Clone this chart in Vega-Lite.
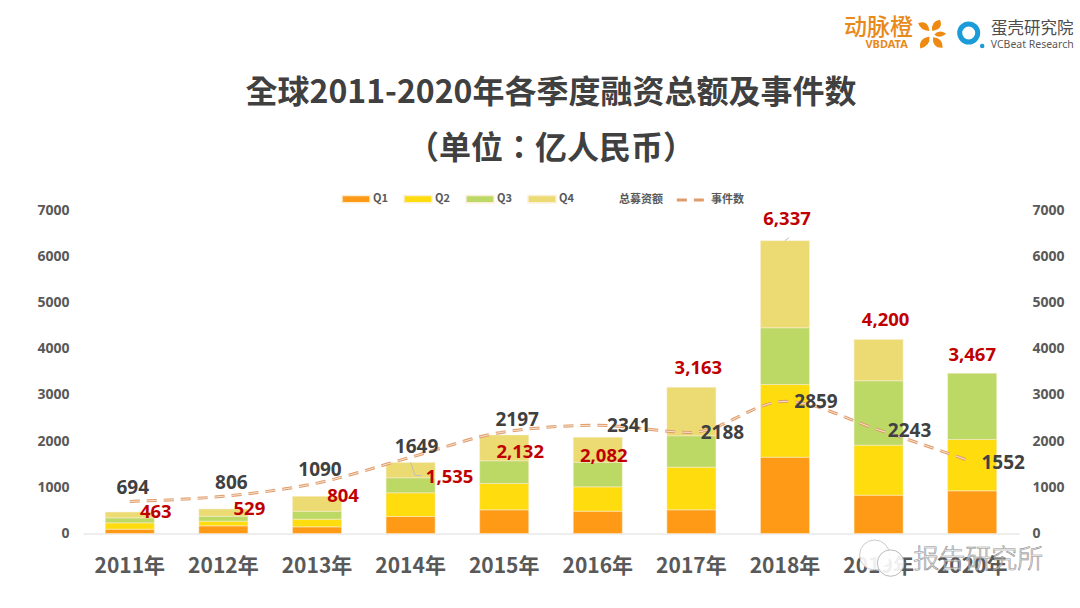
{
  "$schema": "https://vega.github.io/schema/vega-lite/v6.json",
  "width": 936,
  "height": 323.5,
  "padding": {"left": 83, "top": 210, "right": 61, "bottom": 74.5},
  "autosize": {"type": "none"},
  "background": "white",
  "title": {
    "text": ["全球2011-2020年各季度融资总额及事件数", "（单位：亿人民币）"],
    "font": "Noto Sans CJK TC",
    "fontSize": 32,
    "fontWeight": "bold",
    "color": "#404040",
    "lineHeight": 56,
    "anchor": "middle",
    "frame": "group",
    "offset": -152
  },
  "config": {
    "view": {"stroke": null},
    "font": "Noto Sans",
    "legend": {"labelFont": "Noto Sans CJK SC", "labelFontSize": 11, "labelFontWeight": "bold", "labelColor": "#595959", "title": null}
  },
  "datasets": {
    "quarters": [
      {"year": "2011年", "quarter": "Q1", "amount": 94},
      {"year": "2011年", "quarter": "Q2", "amount": 137},
      {"year": "2011年", "quarter": "Q3", "amount": 108},
      {"year": "2011年", "quarter": "Q4", "amount": 124},
      {"year": "2012年", "quarter": "Q1", "amount": 166},
      {"year": "2012年", "quarter": "Q2", "amount": 101},
      {"year": "2012年", "quarter": "Q3", "amount": 108},
      {"year": "2012年", "quarter": "Q4", "amount": 154},
      {"year": "2013年", "quarter": "Q1", "amount": 144},
      {"year": "2013年", "quarter": "Q2", "amount": 166},
      {"year": "2013年", "quarter": "Q3", "amount": 173},
      {"year": "2013年", "quarter": "Q4", "amount": 321},
      {"year": "2014年", "quarter": "Q1", "amount": 368},
      {"year": "2014年", "quarter": "Q2", "amount": 512},
      {"year": "2014年", "quarter": "Q3", "amount": 325},
      {"year": "2014年", "quarter": "Q4", "amount": 330},
      {"year": "2015年", "quarter": "Q1", "amount": 512},
      {"year": "2015年", "quarter": "Q2", "amount": 570},
      {"year": "2015年", "quarter": "Q3", "amount": 491},
      {"year": "2015年", "quarter": "Q4", "amount": 559},
      {"year": "2016年", "quarter": "Q1", "amount": 483},
      {"year": "2016年", "quarter": "Q2", "amount": 527},
      {"year": "2016年", "quarter": "Q3", "amount": 534},
      {"year": "2016年", "quarter": "Q4", "amount": 538},
      {"year": "2017年", "quarter": "Q1", "amount": 512},
      {"year": "2017年", "quarter": "Q2", "amount": 924},
      {"year": "2017年", "quarter": "Q3", "amount": 678},
      {"year": "2017年", "quarter": "Q4", "amount": 1049},
      {"year": "2018年", "quarter": "Q1", "amount": 1652},
      {"year": "2018年", "quarter": "Q2", "amount": 1573},
      {"year": "2018年", "quarter": "Q3", "amount": 1227},
      {"year": "2018年", "quarter": "Q4", "amount": 1885},
      {"year": "2019年", "quarter": "Q1", "amount": 830},
      {"year": "2019年", "quarter": "Q2", "amount": 1082},
      {"year": "2019年", "quarter": "Q3", "amount": 1393},
      {"year": "2019年", "quarter": "Q4", "amount": 895},
      {"year": "2020年", "quarter": "Q1", "amount": 924},
      {"year": "2020年", "quarter": "Q2", "amount": 1111},
      {"year": "2020年", "quarter": "Q3", "amount": 1432}
    ],
    "yearly": [
      {"year": "2011年", "total": 463, "events": 694},
      {"year": "2012年", "total": 529, "events": 806},
      {"year": "2013年", "total": 804, "events": 1090},
      {"year": "2014年", "total": 1535, "events": 1649},
      {"year": "2015年", "total": 2132, "events": 2197},
      {"year": "2016年", "total": 2082, "events": 2341},
      {"year": "2017年", "total": 3163, "events": 2188},
      {"year": "2018年", "total": 6337, "events": 2859},
      {"year": "2019年", "total": 4200, "events": 2243},
      {"year": "2020年", "total": 3467, "events": 1552}
    ],
    "brand": [{"cn": "动脉橙", "en": "VBDATA", "cn2": "蛋壳研究院", "en2": "VCBeat Research", "mark": "报告研究所"}]
  },
  "encoding": {
    "x": {
      "field": "year",
      "type": "nominal",
      "scale": {"paddingInner": 0.476, "paddingOuter": 0.238},
      "axis": {
        "title": null,
        "labelAngle": 0,
        "labelFont": "Noto Sans CJK SC",
        "labelFontSize": 21,
        "labelFontWeight": "bold",
        "labelColor": "#595959",
        "labelPadding": 22,
        "ticks": false,
        "grid": false,
        "domainColor": "#E8E8E8",
        "domainWidth": 1.5
      }
    }
  },
  "layer": [
    {
      "layer": [
        {
          "data": {"name": "quarters"},
          "mark": {"type": "bar", "stroke": "#FBEFD8", "strokeWidth": 0.5},
          "encoding": {
            "y": {
              "field": "amount",
              "type": "quantitative",
              "stack": "zero",
              "scale": {"domain": [0, 7000]},
              "axis": {
                "title": null,
                "orient": "left",
                "values": [0, 1000, 2000, 3000, 4000, 5000, 6000, 7000],
                "format": "d",
                "labelFontSize": 14,
                "labelFontWeight": "bold",
                "labelColor": "#595959",
                "labelPadding": 14,
                "ticks": false,
                "domain": false,
                "grid": false
              }
            },
            "color": {
              "field": "quarter",
              "type": "nominal",
              "scale": {"domain": ["Q1", "Q2", "Q3", "Q4"], "range": ["#FF9A17", "#FFDC0D", "#BBD964", "#EBDB72"]},
              "legend": {
                "orient": "none",
                "direction": "horizontal",
                "legendX": 258,
                "legendY": -26,
                "columns": 4,
                "symbolType": "M-1,-0.26H1V0.26H-1Z",
                "symbolSize": 784,
                "columnPadding": 13,
                "labelOffset": 2
              }
            },
            "order": {"field": "quarter"}
          }
        },
        {
          "data": {"name": "yearly"},
          "mark": {"type": "line", "interpolate": "monotone", "strokeWidth": 3, "strokeDash": [10, 7]},
          "encoding": {
            "y": {"field": "events", "type": "quantitative"},
            "stroke": {
              "datum": "事件数",
              "scale": {"domain": ["总募资额", "事件数"], "range": ["transparent", "#DF9C6B"]},
              "legend": {
                "orient": "none",
                "direction": "horizontal",
                "legendX": 500,
                "legendY": -26,
                "columns": 2,
                "symbolType": "stroke",
                "symbolStrokeWidth": 3,
                "symbolDash": [10, 7],
                "symbolSize": 800,
                "columnPadding": 7,
                "labelOffset": 4
              }
            }
          }
        },
        {
          "data": {"name": "yearly"},
          "mark": {"type": "line", "interpolate": "monotone", "strokeWidth": 1, "strokeDash": [10, 7], "stroke": "#F9E3D3"},
          "encoding": {"y": {"field": "events", "type": "quantitative"}}
        },
        {
          "data": {"name": "yearly"},
          "transform": [{"filter": "datum.year === '2014年'"}],
          "mark": {"type": "point", "shape": "M0,0L0.35,1L0.85,1", "size": 676, "filled": false, "stroke": "#BFBFBF", "strokeWidth": 1, "opacity": 1},
          "encoding": {"y": {"field": "total", "type": "quantitative"}}
        },
        {
          "data": {"name": "yearly"},
          "transform": [{"filter": "datum.year === '2018年'"}],
          "mark": {"type": "point", "shape": "M0,0L0.7,-0.5", "size": 144, "filled": false, "stroke": "#BFBFBF", "strokeWidth": 1, "opacity": 1},
          "encoding": {"y": {"field": "total", "type": "quantitative"}}
        },
        {
          "data": {"name": "yearly"},
          "transform": [{"filter": "indexof(['2011年','2013年'], datum.year) >= 0"}],
          "mark": {"type": "text", "dx": 3, "dy": -13, "fontSize": 19, "fontWeight": "bold", "fill": "#404040"},
          "encoding": {"y": {"field": "events", "type": "quantitative"}, "text": {"field": "events", "type": "quantitative", "format": "d"}}
        },
        {
          "data": {"name": "yearly"},
          "transform": [{"filter": "datum.year === '2012年'"}],
          "mark": {"type": "text", "dx": 8, "dy": -13, "fontSize": 19, "fontWeight": "bold", "fill": "#404040"},
          "encoding": {"y": {"field": "events", "type": "quantitative"}, "text": {"field": "events", "type": "quantitative", "format": "d"}}
        },
        {
          "data": {"name": "yearly"},
          "transform": [{"filter": "datum.year === '2014年'"}],
          "mark": {"type": "text", "dx": 6, "dy": -10, "fontSize": 19, "fontWeight": "bold", "fill": "#404040"},
          "encoding": {"y": {"field": "events", "type": "quantitative"}, "text": {"field": "events", "type": "quantitative", "format": "d"}}
        },
        {
          "data": {"name": "yearly"},
          "transform": [{"filter": "datum.year === '2015年'"}],
          "mark": {"type": "text", "dx": 13, "dy": -12, "fontSize": 19, "fontWeight": "bold", "fill": "#404040"},
          "encoding": {"y": {"field": "events", "type": "quantitative"}, "text": {"field": "events", "type": "quantitative", "format": "d"}}
        },
        {
          "data": {"name": "yearly"},
          "transform": [{"filter": "indexof(['2016年','2017年','2018年','2019年','2020年'], datum.year) >= 0"}],
          "mark": {"type": "text", "dx": 31, "dy": 1, "fontSize": 19, "fontWeight": "bold", "fill": "#404040"},
          "encoding": {"y": {"field": "events", "type": "quantitative"}, "text": {"field": "events", "type": "quantitative", "format": "d"}}
        },
        {
          "data": {"name": "yearly"},
          "transform": [{"filter": "indexof(['2011年','2012年','2013年'], datum.year) >= 0"}],
          "mark": {"type": "text", "dx": 26, "dy": 0, "fontSize": 18.5, "fontWeight": "bold", "fill": "#C00000"},
          "encoding": {"y": {"field": "total", "type": "quantitative"}, "text": {"field": "total", "type": "quantitative", "format": ","}}
        },
        {
          "data": {"name": "yearly"},
          "transform": [{"filter": "datum.year === '2014年'"}],
          "mark": {"type": "text", "dx": 39, "dy": 14, "fontSize": 18.5, "fontWeight": "bold", "fill": "#C00000"},
          "encoding": {"y": {"field": "total", "type": "quantitative"}, "text": {"field": "total", "type": "quantitative", "format": ","}}
        },
        {
          "data": {"name": "yearly"},
          "transform": [{"filter": "datum.year === '2015年'"}],
          "mark": {"type": "text", "dx": 16, "dy": 17, "fontSize": 18.5, "fontWeight": "bold", "fill": "#C00000"},
          "encoding": {"y": {"field": "total", "type": "quantitative"}, "text": {"field": "total", "type": "quantitative", "format": ","}}
        },
        {
          "data": {"name": "yearly"},
          "transform": [{"filter": "datum.year === '2016年'"}],
          "mark": {"type": "text", "dx": 6, "dy": 19, "fontSize": 18.5, "fontWeight": "bold", "fill": "#C00000"},
          "encoding": {"y": {"field": "total", "type": "quantitative"}, "text": {"field": "total", "type": "quantitative", "format": ","}}
        },
        {
          "data": {"name": "yearly"},
          "transform": [{"filter": "indexof(['2017年','2019年'], datum.year) >= 0"}],
          "mark": {"type": "text", "dx": 7, "dy": -19, "fontSize": 18.5, "fontWeight": "bold", "fill": "#C00000"},
          "encoding": {"y": {"field": "total", "type": "quantitative"}, "text": {"field": "total", "type": "quantitative", "format": ","}}
        },
        {
          "data": {"name": "yearly"},
          "transform": [{"filter": "datum.year === '2018年'"}],
          "mark": {"type": "text", "dx": 2, "dy": -22, "fontSize": 18.5, "fontWeight": "bold", "fill": "#C00000"},
          "encoding": {"y": {"field": "total", "type": "quantitative"}, "text": {"field": "total", "type": "quantitative", "format": ","}}
        },
        {
          "data": {"name": "yearly"},
          "transform": [{"filter": "datum.year === '2020年'"}],
          "mark": {"type": "text", "dx": 0, "dy": -18, "fontSize": 18.5, "fontWeight": "bold", "fill": "#C00000"},
          "encoding": {"y": {"field": "total", "type": "quantitative"}, "text": {"field": "total", "type": "quantitative", "format": ","}}
        },
        {
          "data": {"name": "brand"},
          "mark": {"type": "text", "font": "Noto Sans CJK SC", "fontWeight": 500, "fontSize": 23, "fill": "#E8891B", "dx": 0},
          "encoding": {"x": {"datum": "2019年"}, "y": {"datum": 10940}, "text": {"field": "cn"}}
        },
        {
          "data": {"name": "brand"},
          "mark": {"type": "text", "fontWeight": "bold", "fontSize": 11, "fill": "#E8891B", "dx": 8},
          "encoding": {"x": {"datum": "2019年"}, "y": {"datum": 10570}, "text": {"field": "en"}}
        },
        {
          "data": {"name": "brand"},
          "mark": {"type": "text", "font": "Noto Sans CJK SC", "fontSize": 16.5, "fill": "#4D4D4D", "dx": 60},
          "encoding": {"x": {"datum": "2020年"}, "y": {"datum": 10920}, "text": {"field": "cn2"}}
        },
        {
          "data": {"name": "brand"},
          "mark": {"type": "text", "fontSize": 10.5, "fill": "#595959", "dx": 60},
          "encoding": {"x": {"datum": "2020年"}, "y": {"datum": 10570}, "text": {"field": "en2"}}
        },
        {
          "data": {"name": "brand"},
          "mark": {"type": "point", "shape": "circle", "filled": false, "size": 324, "stroke": "#1B9BD8", "strokeWidth": 5, "opacity": 1, "xOffset": -3.5},
          "encoding": {"x": {"datum": "2020年"}, "y": {"datum": 10830}}
        },
        {
          "data": {"name": "brand"},
          "mark": {"type": "point", "shape": "circle", "filled": true, "size": 20, "fill": "#1B9BD8", "opacity": 1, "xOffset": 10},
          "encoding": {"x": {"datum": "2020年"}, "y": {"datum": 10550}}
        },
        {
          "data": {"name": "brand"},
          "mark": {
            "type": "point",
            "shape": "M-0.2,-0.25Q-0.85,-0.3-1,-0.8Q-0.3,-1.05-0.2,-0.25ZM0,-0.25Q-0.1,-0.95 0.55,-1.05Q0.85,-0.4 0,-0.25ZM0.15,0Q0.5,-0.4 1,-0.05Q0.5,0.35 0.15,0ZM0.05,0.2Q0.75,0.2 0.75,0.95Q0,1 0.05,0.2ZM-0.2,0.15Q-0.1,0.8-0.85,1Q-1,0.3-0.2,0.15Z",
            "size": 784,
            "filled": true,
            "fill": "#EE8A12",
            "opacity": 1,
            "xOffset": -40
          },
          "encoding": {"x": {"datum": "2020年"}, "y": {"datum": 10800}}
        },
        {
          "data": {"name": "brand"},
          "mark": {"type": "point", "shape": "circle", "size": 900, "filled": true, "fill": "#FFFFFF", "fillOpacity": 0.9, "stroke": "#CCCCCC", "strokeWidth": 1, "opacity": 1, "xOffset": -4},
          "encoding": {"x": {"datum": "2019年"}, "y": {"datum": -465}}
        },
        {
          "data": {"name": "brand"},
          "mark": {"type": "point", "shape": "circle", "size": 700, "filled": true, "fill": "#FFFFFF", "fillOpacity": 0.9, "stroke": "#BBBBBB", "strokeWidth": 1, "opacity": 1, "xOffset": 12},
          "encoding": {"x": {"datum": "2019年"}, "y": {"datum": -640}}
        },
        {
          "data": {"name": "brand"},
          "mark": {"type": "text", "font": "Noto Sans CJK SC", "fontWeight": 300, "fontSize": 26, "fill": "#FFFFFF", "fillOpacity": 0.55, "stroke": "#8C8C8C", "strokeWidth": 0.6, "dx": 6},
          "encoding": {"x": {"datum": "2020年"}, "y": {"datum": -570}, "text": {"field": "mark"}}
        }
      ]
    },
    {
      "data": {"name": "yearly"},
      "mark": {"type": "text", "text": ""},
      "encoding": {
        "y": {
          "field": "total",
          "type": "quantitative",
          "scale": {"domain": [0, 7000]},
          "axis": {
            "title": null,
            "orient": "right",
            "values": [0, 1000, 2000, 3000, 4000, 5000, 6000, 7000],
            "format": "d",
            "labelFontSize": 14,
            "labelFontWeight": "bold",
            "labelColor": "#595959",
            "labelPadding": 13,
            "ticks": false,
            "domain": false,
            "grid": false
          }
        }
      }
    }
  ],
  "resolve": {"scale": {"y": "independent"}}
}
